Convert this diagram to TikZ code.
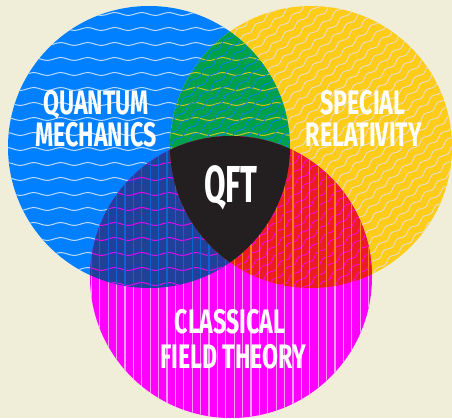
\documentclass[tikz,border=0pt]{standalone}
\usepackage{fontspec}
\setmainfont{Fira Sans}[FakeStretch=0.68]
\newfontfamily\qftfont{Fira Sans}[FakeStretch=0.6]
\definecolor{bg}{HTML}{F0EED8}
\definecolor{cblue}{HTML}{0080FF}
\definecolor{cyel}{HTML}{FFCC1A}
\definecolor{cmag}{HTML}{FF00FF}
\definecolor{cgreen}{HTML}{00A14B}
\definecolor{cred}{HTML}{ED1C24}
\definecolor{cnavy}{HTML}{21409A}
\definecolor{cblack}{HTML}{231F20}
\definecolor{lnblue}{HTML}{B8D8FF}
\definecolor{lnyel}{HTML}{E2DDC8}
\definecolor{lnmag}{HTML}{FFA0FF}
\newcommand\bluewaves[1]{%
  \foreach \yy in {-1,14,...,419} {%
    \draw[#1, line width=1pt] plot[domain=0:300, samples=110, smooth] (\x,{\yy+1.4*sin(\x*13.3333)});}}
\newcommand\yelwaves[1]{%
  \begin{scope}[shift={(311,271)}, rotate=41]
  \foreach \yy in {-153,-144.5,...,153} {%
    \draw[#1, line width=0.9pt] plot[domain=-160:160, samples=150, smooth] (\x,{\yy+1.5*sin(\x*21)});}
  \end{scope}}
\newcommand\magstripes[1]{%
  \foreach \i in {0,...,34} {%
    \draw[#1, line width=1.2pt] ({91.4+8.4*\i},0) -- ({91.4+8.4*\i},290);}}
\newcommand\cblueclip{\clip (149,271) circle[radius=141pt];}
\newcommand\cyelclip{\clip (311,271) circle[radius=141pt];}
\newcommand\cmagclip{\clip (231,141) circle[radius=141pt];}
\tikzset{lbl/.style={text=white, font=\bfseries\fontsize{34}{34}\selectfont, inner sep=0pt, anchor=base}}
\begin{document}
\begin{tikzpicture}[x=1pt,y=1pt]
\useasboundingbox (0,0) rectangle (452,418);
\fill[bg] (0,0) rectangle (452,418);
% blue circle
\begin{scope}
  \cblueclip
  \fill[cblue] (0,0) rectangle (452,418);
  \bluewaves{lnblue}
\end{scope}
% yellow circle
\begin{scope}
  \cyelclip
  \fill[cyel] (0,0) rectangle (452,418);
  \yelwaves{lnyel}
\end{scope}
% magenta circle
\begin{scope}
  \cmagclip
  \fill[cmag] (0,0) rectangle (452,418);
  \magstripes{lnmag}
\end{scope}
% blue & yellow
\begin{scope}
  \cblueclip \cyelclip
  \fill[cgreen] (0,0) rectangle (452,418);
  \bluewaves{cyel!80!cgreen}
  \yelwaves{cblue!85!cgreen}
\end{scope}
% blue & magenta
\begin{scope}
  \cblueclip \cmagclip
  \fill[cnavy] (0,0) rectangle (452,418);
  \bluewaves{cmag!85!cnavy}
  \magstripes{cblue!55!cnavy}
\end{scope}
% yellow & magenta
\begin{scope}
  \cyelclip \cmagclip
  \fill[cred] (0,0) rectangle (452,418);
  \yelwaves{cmag!85!cred}
  \magstripes{cyel!55!cred}
\end{scope}
% all three
\begin{scope}
  \cblueclip \cyelclip \cmagclip
  \fill[cblack] (0,0) rectangle (452,418);
\end{scope}
% labels
\node[lbl] (qm1) at (96,303) {QUANTUM};
\node[lbl] (qm2) at (96,271) {MECHANICS};
\node[lbl] (sr1) at (363,303) {SPECIAL};
\node[lbl] (sr2) at (364,271) {RELATIVITY};
\node[lbl, font=\qftfont\bfseries\fontsize{52}{52}\selectfont] (qft) at (231,215) {QFT};
\node[lbl] (cf1) at (230,85) {CLASSICAL};
\node[lbl] (cf2) at (233,50) {FIELD THEORY};
\end{tikzpicture}
\end{document}
